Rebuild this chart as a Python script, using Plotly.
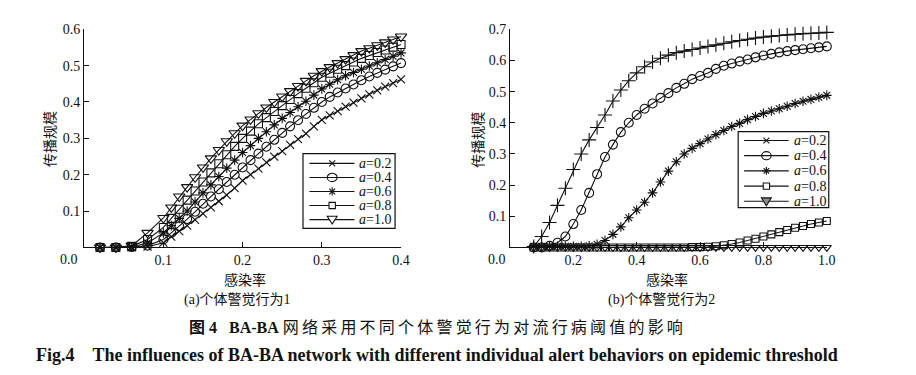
import plotly.graph_objects as go

# ---------------- data ----------------
x_left = [0.02, 0.04, 0.06, 0.08, 0.10, 0.11, 0.12, 0.13, 0.14, 0.15, 0.16, 0.17, 0.18, 0.19,
          0.20, 0.21, 0.22, 0.23, 0.24, 0.25, 0.26, 0.27, 0.28, 0.29, 0.30, 0.31, 0.32, 0.33,
          0.34, 0.35, 0.36, 0.37, 0.38, 0.39, 0.40]
left_a02 = [0.0, 0.0, 0.0, 0.002, 0.013, 0.03, 0.045, 0.06, 0.076, 0.093, 0.11, 0.127, 0.144, 0.163,
            0.184, 0.2, 0.217, 0.234, 0.25, 0.265, 0.282, 0.298, 0.313, 0.333, 0.351, 0.363, 0.375,
            0.387, 0.398, 0.41, 0.421, 0.432, 0.442, 0.452, 0.462]
left_a04 = [0.0, 0.0, 0.001, 0.005, 0.022, 0.04, 0.058, 0.078, 0.098, 0.12, 0.14, 0.16, 0.18, 0.2,
            0.22, 0.24, 0.258, 0.277, 0.296, 0.315, 0.333, 0.35, 0.367, 0.384, 0.4, 0.414, 0.426,
            0.437, 0.448, 0.46, 0.47, 0.48, 0.489, 0.498, 0.507]
left_a06 = [0.0, 0.0, 0.002, 0.012, 0.04, 0.06, 0.08, 0.1, 0.125, 0.15, 0.172, 0.195, 0.218, 0.24,
            0.261, 0.28, 0.3, 0.318, 0.337, 0.355, 0.371, 0.387, 0.402, 0.419, 0.436, 0.449, 0.461,
            0.472, 0.481, 0.49, 0.499, 0.508, 0.517, 0.526, 0.535]
left_a08 = [0.0, 0.0, 0.003, 0.022, 0.055, 0.08, 0.105, 0.13, 0.155, 0.18, 0.205, 0.23, 0.255, 0.278,
            0.3, 0.32, 0.34, 0.357, 0.374, 0.39, 0.407, 0.423, 0.438, 0.453, 0.468, 0.479, 0.49,
            0.5, 0.51, 0.52, 0.528, 0.536, 0.543, 0.551, 0.558]
left_a10 = [0.0, 0.0, 0.005, 0.04, 0.081, 0.11, 0.14, 0.166, 0.193, 0.22, 0.245, 0.268, 0.292, 0.314,
            0.335, 0.352, 0.369, 0.385, 0.4, 0.415, 0.43, 0.444, 0.458, 0.472, 0.485, 0.496, 0.507,
            0.518, 0.529, 0.54, 0.548, 0.556, 0.564, 0.572, 0.58]

x_right = [0.075, 0.1, 0.125, 0.15, 0.175, 0.2, 0.225, 0.25, 0.275, 0.3, 0.325, 0.35, 0.375, 0.4,
           0.425, 0.45, 0.475, 0.5, 0.525, 0.55, 0.575, 0.6, 0.625, 0.65, 0.675, 0.7, 0.725, 0.75,
           0.775, 0.8, 0.825, 0.85, 0.875, 0.9, 0.925, 0.95, 0.975, 1.0]
right_a02 = [0.003, 0.035, 0.08, 0.135, 0.19, 0.25, 0.30, 0.345, 0.385, 0.425, 0.47, 0.505, 0.535, 0.56,
             0.58, 0.595, 0.607, 0.617, 0.625, 0.63, 0.635, 0.64, 0.645, 0.65, 0.655, 0.66, 0.664, 0.668,
             0.672, 0.675, 0.678, 0.68, 0.682, 0.684, 0.686, 0.687, 0.688, 0.69]
right_a04 = [0.0, 0.0, 0.005, 0.015, 0.035, 0.075, 0.12, 0.175, 0.235, 0.29, 0.33, 0.37, 0.40, 0.425,
             0.445, 0.462, 0.48, 0.495, 0.512, 0.525, 0.54, 0.55, 0.56, 0.573, 0.583, 0.59, 0.597, 0.603,
             0.61, 0.616, 0.621, 0.626, 0.63, 0.633, 0.636, 0.639, 0.642, 0.645]
right_a06 = [0.004, 0.004, 0.004, 0.004, 0.004, 0.004, 0.004, 0.005, 0.01, 0.022, 0.042, 0.066, 0.095, 0.12,
             0.145, 0.175, 0.21, 0.245, 0.275, 0.3, 0.318, 0.333, 0.348, 0.362, 0.375, 0.388, 0.398, 0.41,
             0.42, 0.43, 0.438, 0.445, 0.453, 0.462, 0.469, 0.475, 0.482, 0.488]
right_a08 = [0.0, 0.0, 0.0, 0.0, 0.0, 0.0, 0.0, 0.0, 0.0, 0.0, 0.0, 0.0, 0.0, 0.0,
             0.0, 0.0, 0.0, 0.0, 0.0, 0.0, 0.001, 0.001, 0.002, 0.004, 0.007, 0.011, 0.016, 0.022,
             0.028, 0.035, 0.042, 0.049, 0.056, 0.063, 0.069, 0.075, 0.08, 0.085]
right_a10 = [0.0] * 38

series_names = ["<i>a</i>=0.2", "<i>a</i>=0.4", "<i>a</i>=0.6", "<i>a</i>=0.8", "<i>a</i>=1.0"]
left_tickvals = [0.1, 0.2, 0.3, 0.4]
left_yticks = [0.1, 0.2, 0.3, 0.4, 0.5, 0.6]
right_tickvals = [0.2, 0.4, 0.6, 0.8, 1.0]
right_yticks = [0.1, 0.2, 0.3, 0.4, 0.5, 0.6, 0.7]

# ---------------- styling ----------------
INK = "#111111"
SERIF = "Liberation Serif, Noto Sans CJK SC"
CJK = "Noto Sans CJK SC"
left_symbols = ["x-thin-open", "circle-open", "asterisk-open", "square-open", "triangle-down-open"]
left_sizes = [8, 9, 8, 8, 10]
right_symbols = ["cross-thin-open", "circle-open", "asterisk-open", "square-open", "triangle-down-open"]
right_sizes = [10, 9, 8, 7, 8]
legend_kinds = ["x", "circle", "asterisk", "square", "triangle"]

fig = go.Figure()

left_data = [left_a02, left_a04, left_a06, left_a08, left_a10]
for name, ys, sym, sz in zip(series_names, left_data, left_symbols, left_sizes):
    fig.add_trace(go.Scatter(
        x=x_left, y=ys, mode="lines+markers", name=name, showlegend=False,
        line=dict(color=INK, width=1.1),
        marker=dict(symbol=sym, size=sz, color=INK, line=dict(color=INK, width=1.1)),
        xaxis="x", yaxis="y", cliponaxis=False,
    ))

right_data = [right_a02, right_a04, right_a06, right_a08, right_a10]
for name, ys, sym, sz in zip(series_names, right_data, right_symbols, right_sizes):
    fig.add_trace(go.Scatter(
        x=x_right, y=ys, mode="lines+markers", name=name, showlegend=False,
        line=dict(color=INK, width=1.1),
        marker=dict(symbol=sym, size=sz, color=INK, line=dict(color=INK, width=1.1)),
        xaxis="x2", yaxis="y2", cliponaxis=False,
    ))

W, H = 916, 375
def px(x):
    return x / W
def py(y):
    return 1 - y / H

ybot = py(245)
ytop = py(22.7)

axis_common = dict(
    showline=True, linecolor=INK, linewidth=1, mirror=False,
    ticks="inside", ticklen=5, tickwidth=1, tickcolor=INK,
    showgrid=False, zeroline=False,
    tickfont=dict(family="Liberation Serif", size=14, color=INK),
)

fig.update_layout(
    width=W, height=H,
    margin=dict(l=0, r=0, t=0, b=0),
    paper_bgcolor="white", plot_bgcolor="white",
    showlegend=False,
    xaxis=dict(domain=[px(85), px(405)], range=[0, 0.4], tickvals=left_tickvals,
               ticktext=[f"{v:.1f}" for v in left_tickvals], anchor="y", **axis_common),
    yaxis=dict(domain=[ybot, ytop], range=[0, 0.6], tickvals=left_yticks,
               ticktext=[f"{v:.1f}" for v in left_yticks], anchor="x", **axis_common),
    xaxis2=dict(domain=[px(515), px(835)], range=[0, 1.0], tickvals=right_tickvals,
                ticktext=[f"{v:.1f}" for v in right_tickvals], anchor="y2", **axis_common),
    yaxis2=dict(domain=[ybot, ytop], range=[0, 0.7], tickvals=right_yticks,
                ticktext=[f"{v:.1f}" for v in right_yticks], anchor="x2", **axis_common),
)

ann = []
shapes = []
def add(text, x, y, size=14, family=SERIF, angle=0, xanchor="center", color=INK):
    ann.append(dict(text=text, x=px(x), y=py(y), xref="paper", yref="paper", showarrow=False,
                    xanchor=xanchor, yanchor="middle", textangle=angle,
                    font=dict(family=family, size=size, color=color)))

def seg(x0, y0, x1, y1, w=1.1):
    shapes.append(dict(type="line", xref="paper", yref="paper",
                       x0=px(x0), y0=py(y0), x1=px(x1), y1=py(y1),
                       line=dict(color=INK, width=w), layer="above"))

def key_symbol(kind, cx, cy, s, fill=None):
    # s: half-size of the key symbol in pixels
    if kind == "x":
        seg(cx - s * 0.75, cy - s * 0.75, cx + s * 0.75, cy + s * 0.75)
        seg(cx - s * 0.75, cy + s * 0.75, cx + s * 0.75, cy - s * 0.75)
    elif kind == "asterisk":
        seg(cx - s, cy, cx + s, cy)
        seg(cx, cy - s, cx, cy + s)
        seg(cx - s * 0.7, cy - s * 0.7, cx + s * 0.7, cy + s * 0.7)
        seg(cx - s * 0.7, cy + s * 0.7, cx + s * 0.7, cy - s * 0.7)
    elif kind == "circle":
        shapes.append(dict(type="circle", xref="paper", yref="paper",
                           x0=px(cx - s), x1=px(cx + s), y0=py(cy + s * 0.85), y1=py(cy - s * 0.85),
                           line=dict(color=INK, width=1.1), fillcolor="rgba(0,0,0,0)", layer="above"))
    elif kind == "square":
        shapes.append(dict(type="rect", xref="paper", yref="paper",
                           x0=px(cx - s * 0.8), x1=px(cx + s * 0.8), y0=py(cy + s * 0.8), y1=py(cy - s * 0.8),
                           line=dict(color=INK, width=1.1), fillcolor="white", layer="above"))
    elif kind == "triangle":
        path = (f"M{px(cx - s)},{py(cy - s * 0.7)} L{px(cx + s)},{py(cy - s * 0.7)} "
                f"L{px(cx)},{py(cy + s * 0.9)} Z")
        shapes.append(dict(type="path", xref="paper", yref="paper", path=path,
                           line=dict(color=INK, width=1.1),
                           fillcolor=fill if fill else "white", layer="above"))

def legend_box(left, top, right, bottom, rows, line_x0, line_x1, mark_x, text_x, sizes, grey_last=False):
    shapes.append(dict(type="rect", xref="paper", yref="paper",
                       x0=px(left), x1=px(right), y0=py(bottom), y1=py(top),
                       line=dict(color=INK, width=1.2), fillcolor="white", layer="above"))
    for i, (name, yrow) in enumerate(zip(series_names, rows)):
        seg(line_x0, yrow, line_x1, yrow)
        fill = "#8a8a8a" if (grey_last and i == 4) else None
        key_symbol(legend_kinds[i], mark_x, yrow, sizes[i], fill)
        add(name, text_x, yrow, size=14, family="Liberation Serif", xanchor="left")

legend_box(306, 149.5, 399, 225.5, [159.3, 173.7, 188.0, 202.3, 216.7], 312.5, 358, 335.5, 360.5,
           sizes=[4.0, 5.0, 4.2, 4.0, 5.0])
legend_box(745.5, 127, 837, 204.5, [136.0, 151.5, 167.0, 182.5, 198.0], 751.5, 796.5, 774, 799.5,
           sizes=[4.0, 4.8, 4.0, 4.0, 5.0], grey_last=True)

add("0.0", 70, 257, family="Liberation Serif")
add("0.0", 502, 257, family="Liberation Serif")
add("传播规模", 50, 135, angle=-90, family=CJK)
add("传播规模", 482, 135, angle=-90, family=CJK)
add("感染率", 247, 277, family=CJK)
add("感染率", 674, 277, family=CJK)
add("(a)个体警觉行为1", 240, 299)
add("(b)个体警觉行为2", 668, 299)
cn_title = "\u2009".join("网络采用不同个体警觉行为对流行病阈值的影响")
add("<b>图 4\u00a0\u00a0\u00a0BA-BA</b>\u00a0" + cn_title, 440, 326.5, size=16)
add("<b>Fig.4\u00a0\u00a0\u00a0\u00a0The influences of BA-BA network with different individual alert behaviors on epidemic threshold</b>",
    441.5, 355, size=18)
fig.update_layout(annotations=ann, shapes=shapes)

fig.write_html("out.html", config={"displayModeBar": False},
               post_script="document.body.style.margin='0px';")
